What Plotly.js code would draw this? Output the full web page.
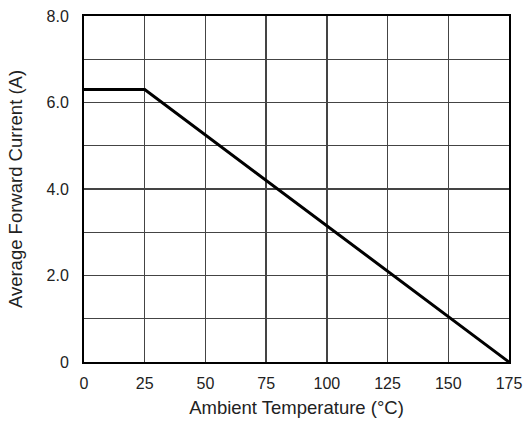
<!DOCTYPE html>
<html>
<head>
<meta charset="utf-8">
<script src="https://cdn.plot.ly/plotly-3.0.1.min.js"></script>
<style>html,body{margin:0;padding:0;background:#fff;}#chart{width:525px;height:421px;}</style>
</head>
<body>
<div id="chart"></div>
<script>
const temperature = [0, 25, 175];
const current = [6.3, 6.3, 0];
const xTicks = [0, 25, 50, 75, 100, 125, 150, 175];
const yTickVals = [0, 1, 2, 3, 4, 5, 6, 7, 8];
const yTickText = ['0', '', '2.0', '', '4.0', '', '6.0', '', '8.0'];

const trace = {
  x: temperature, y: current, type: 'scatter', mode: 'lines',
  line: {color: '#000', width: 3}, hoverinfo: 'skip'
};
const fam = 'Liberation Sans, Arial, sans-serif';
const layout = {
  width: 525, height: 421,
  margin: {l: 84, r: 16, t: 16, b: 59},
  paper_bgcolor: '#fff', plot_bgcolor: '#fff',
  showlegend: false,
  font: {family: fam, size: 16, color: '#222'},
  xaxis: {
    range: [0, 175], tickvals: xTicks, ticktext: xTicks.map(String),
    showgrid: true, gridcolor: '#444', gridwidth: 1.3,
    showline: true, linecolor: '#000', linewidth: 2, mirror: true,
    zeroline: false, ticks: '', ticklabelstandoff: 6,
    tickfont: {family: fam, size: 16, color: '#222'},
    title: {text: 'Ambient Temperature (°C)', font: {family: fam, size: 18.5, color: '#222'}, standoff: 10}
  },
  yaxis: {
    range: [0, 8], tickvals: yTickVals, ticktext: yTickText,
    showgrid: true, gridcolor: '#444', gridwidth: 1.3,
    showline: true, linecolor: '#000', linewidth: 2, mirror: true,
    zeroline: false, ticks: '', ticklabelstandoff: 10,
    tickfont: {family: fam, size: 16, color: '#222'},
    title: {text: 'Average Forward Current (A)', font: {family: fam, size: 18.5, color: '#222'}, standoff: 19}
  }
};
Plotly.newPlot('chart', [trace], layout, {staticPlot: true, displayModeBar: false});
</script>
</body>
</html>
